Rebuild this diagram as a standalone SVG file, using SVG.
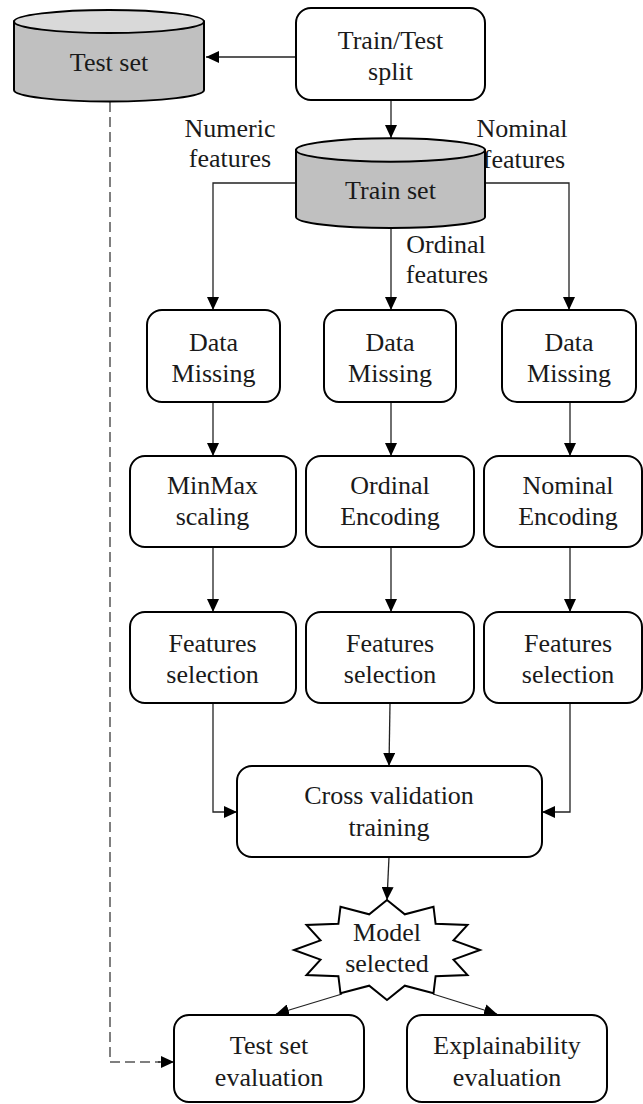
<svg xmlns="http://www.w3.org/2000/svg" width="643" height="1104" viewBox="0 0 643 1104">
<defs>
<marker id="ah" viewBox="0 0 13 12" refX="13" refY="6" markerWidth="13" markerHeight="12" markerUnits="userSpaceOnUse" orient="auto">
<path d="M0,0 L13,6 L0,12 Z" fill="#000"/>
</marker>
<style>
.box{fill:#fff;stroke:#000;stroke-width:2}
.body{fill:#c0c0c0;stroke:#000;stroke-width:2}
.top{fill:#d9d9d9;stroke:#000;stroke-width:2}
.t{font-family:"Liberation Serif","Times New Roman",serif;font-size:26px;fill:#1a1a1a;text-anchor:middle}
.c{fill:none;stroke:#222;stroke-width:1.3}
.d{fill:none;stroke:#555;stroke-width:1.5;stroke-dasharray:10,5}
</style>
</defs>
<rect width="643" height="1104" fill="#fff"/>

<g id="labels">
<text class="t" x="230" y="137">Numeric</text>
<text class="t" x="230" y="167">features</text>
<text class="t" x="522" y="137">Nominal</text>
<text class="t" x="524" y="168">features</text>
<text class="t" x="446" y="253">Ordinal</text>
<text class="t" x="447" y="283">features</text>
</g>

<g id="connectors">
<line class="c" x1="296" y1="57" x2="206" y2="57" marker-end="url(#ah)"/>
<line class="c" x1="391" y1="100" x2="391" y2="138" marker-end="url(#ah)"/>
<polyline class="c" points="296,183 213,183 213,310" marker-end="url(#ah)"/>
<line class="c" x1="391" y1="228" x2="391" y2="310" marker-end="url(#ah)"/>
<polyline class="c" points="485,183 569,183 569,310" marker-end="url(#ah)"/>
<line class="c" x1="213" y1="402" x2="213" y2="456" marker-end="url(#ah)"/>
<line class="c" x1="391" y1="402" x2="391" y2="456" marker-end="url(#ah)"/>
<line class="c" x1="570" y1="402" x2="570" y2="456" marker-end="url(#ah)"/>
<line class="c" x1="213" y1="547" x2="213" y2="612" marker-end="url(#ah)"/>
<line class="c" x1="391" y1="547" x2="391" y2="612" marker-end="url(#ah)"/>
<line class="c" x1="570" y1="547" x2="570" y2="612" marker-end="url(#ah)"/>
<polyline class="c" points="213,703 213,812 237,812" marker-end="url(#ah)"/>
<line class="c" x1="390" y1="703" x2="389" y2="766" marker-end="url(#ah)"/>
<polyline class="c" points="570,703 570,812 542,812" marker-end="url(#ah)"/>
<line class="c" x1="389" y1="857" x2="387" y2="900" marker-end="url(#ah)"/>
<line class="c" x1="342" y1="994" x2="276" y2="1014" marker-end="url(#ah)"/>
<line class="c" x1="433" y1="994" x2="497" y2="1014" marker-end="url(#ah)"/>
<polyline class="d" points="110,102 110,1062 160,1062"/>
<line class="c" x1="158" y1="1062" x2="174" y2="1062" stroke="#555" marker-end="url(#ah)"/>
</g>

<g id="test-set">
<path class="body" d="M14,21.5 L14,90 A95,11.5 0 0 0 204,90 L204,21.5 Z"/>
<ellipse class="top" cx="109" cy="21.5" rx="95" ry="11.5"/>
<text class="t" x="109" y="71">Test set</text>
</g>

<g id="train-test-split">
<rect class="box" x="296" y="8" width="189" height="92" rx="15"/>
<text class="t" x="390.5" y="49">Train/Test</text>
<text class="t" x="390.5" y="80">split</text>
</g>

<g id="train-set">
<path class="body" d="M296,150 L296,217 A94.5,11 0 0 0 485,217 L485,150 Z"/>
<ellipse class="top" cx="390.5" cy="150" rx="94.5" ry="11.7"/>
<text class="t" x="390.5" y="199">Train set</text>
</g>

<g id="dm1">
<rect class="box" x="147" y="310" width="133" height="92" rx="15"/>
<text class="t" x="213.5" y="351">Data</text>
<text class="t" x="213.5" y="382">Missing</text>
</g>
<g id="dm2">
<rect class="box" x="324" y="310" width="132" height="92" rx="15"/>
<text class="t" x="390" y="351">Data</text>
<text class="t" x="390" y="382">Missing</text>
</g>
<g id="dm3">
<rect class="box" x="502" y="310" width="134" height="92" rx="15"/>
<text class="t" x="569" y="351">Data</text>
<text class="t" x="569" y="382">Missing</text>
</g>

<g id="minmax">
<rect class="box" x="130" y="456" width="166" height="91" rx="15"/>
<text class="t" x="212.5" y="494">MinMax</text>
<text class="t" x="212.5" y="525">scaling</text>
</g>
<g id="ordinal-enc">
<rect class="box" x="306" y="456" width="168" height="91" rx="15"/>
<text class="t" x="390" y="494">Ordinal</text>
<text class="t" x="390" y="525">Encoding</text>
</g>
<g id="nominal-enc">
<rect class="box" x="484" y="456" width="158" height="91" rx="15"/>
<text class="t" x="568" y="494">Nominal</text>
<text class="t" x="568" y="525">Encoding</text>
</g>

<g id="fs1">
<rect class="box" x="130" y="612" width="166" height="91" rx="15"/>
<text class="t" x="212.5" y="652">Features</text>
<text class="t" x="212.5" y="683">selection</text>
</g>
<g id="fs2">
<rect class="box" x="306" y="612" width="168" height="91" rx="15"/>
<text class="t" x="390" y="652">Features</text>
<text class="t" x="390" y="683">selection</text>
</g>
<g id="fs3">
<rect class="box" x="484" y="612" width="158" height="91" rx="15"/>
<text class="t" x="568" y="652">Features</text>
<text class="t" x="568" y="683">selection</text>
</g>

<g id="cross-validation">
<rect class="box" x="237" y="766" width="305" height="91" rx="15"/>
<text class="t" x="389" y="804">Cross validation</text>
<text class="t" x="389" y="836">training</text>
</g>

<g id="model-selected">
<polygon class="box" points="387,900 404.8,914.3 433.5,906.7 435.6,923.8 467.5,925 453.5,940.4 480,950 453.5,959.6 467.5,975 435.6,976.2 433.5,993.3 404.8,985.7 387,1000 369.2,985.7 340.5,993.3 338.4,976.2 306.5,975 320.5,959.6 294,950 320.5,940.4 306.5,925 338.4,923.8 340.5,906.7 369.2,914.3"/>
<text class="t" x="387" y="941">Model</text>
<text class="t" x="387" y="972">selected</text>
</g>

<g id="test-eval">
<rect class="box" x="174" y="1015" width="190" height="87" rx="15"/>
<text class="t" x="269" y="1054">Test set</text>
<text class="t" x="269" y="1086">evaluation</text>
</g>
<g id="explain-eval">
<rect class="box" x="407" y="1015" width="200" height="87" rx="15"/>
<text class="t" x="507" y="1054">Explainability</text>
<text class="t" x="507" y="1086">evaluation</text>
</g>
</svg>
